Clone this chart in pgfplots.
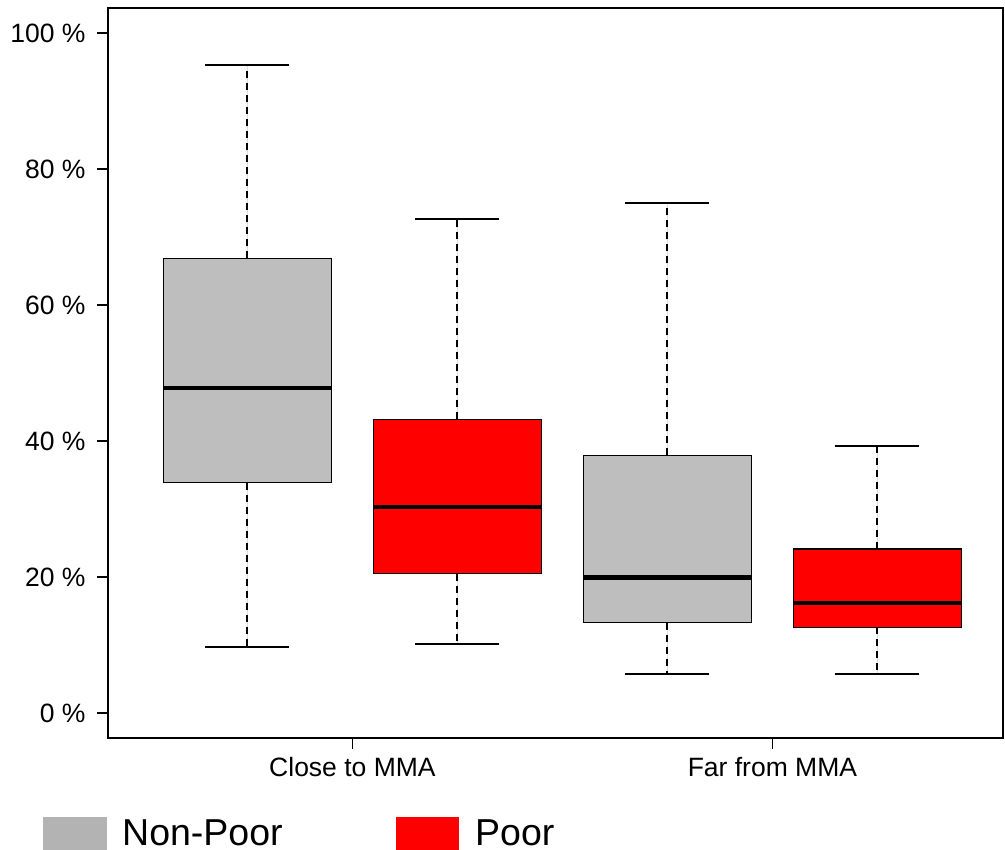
\documentclass[border=0pt]{standalone}
\usepackage{pgfplots}
\pgfplotsset{compat=1.18}
\usepgfplotslibrary{statistics}
\usepackage{fontspec}
\setmainfont{Liberation Sans}
\definecolor{npgrey}{HTML}{BEBEBE}
\definecolor{leggrey}{HTML}{B3B3B3}
\definecolor{pred}{HTML}{FF0000}
\begin{document}
\begin{tikzpicture}
\useasboundingbox (0,0) rectangle (1005bp,-850bp);
\begin{axis}[
  at={(108bp,-738bp)}, anchor=south west,
  scale only axis, width=895bp, height=730bp,
  xmin=0.336, xmax=4.598, ymin=-3.68, ymax=103.7,
  xtick={1.5,3.5}, xticklabels={Close to MMA, Far from MMA},
  ytick={0,20,40,60,80,100},
  yticklabels={0 \%,20 \%,40 \%,60 \%,80 \%,100 \%},
  tick align=outside, tick pos=left, major tick length=11bp,
  axis line style={line width=1.4bp, black},
  every tick/.style={black, line width=1.4bp},
  ticklabel style={font=\fontsize{26.5bp}{30bp}\selectfont},
  yticklabel style={xshift=-8bp},
  xticklabel style={yshift=-5bp},
  boxplot/draw direction=y,
  boxplot/every median/.style={line width=4.5bp, black},
  boxplot/draw/whisker/.code 2 args={
    \draw[black, line width=2bp, dash pattern=on 7bp off 5bp] (boxplot cs:#1) -- (boxplot cs:#2);
    \draw[black, line width=2bp, solid] (boxplot whisker cs:#2,0) -- (boxplot whisker cs:#2,1);
  },
]
\addplot[draw=black, fill=npgrey, line width=1.6bp, solid,
  boxplot prepared={draw position=1, lower whisker=9.66, lower quartile=33.9, median=47.8,
    upper quartile=66.87, upper whisker=95.3, box extend=0.8, whisker extend=0.4}] coordinates {};
\addplot[draw=black, fill=pred, line width=1.6bp, solid,
  boxplot prepared={draw position=2, lower whisker=10.1, lower quartile=20.5, median=30.3,
    upper quartile=43.2, upper whisker=72.6, box extend=0.8, whisker extend=0.4}] coordinates {};
\addplot[draw=black, fill=npgrey, line width=1.6bp, solid,
  boxplot prepared={draw position=3, lower whisker=5.8, lower quartile=13.3, median=19.9,
    upper quartile=37.9, upper whisker=75.0, box extend=0.8, whisker extend=0.4}] coordinates {};
\addplot[draw=black, fill=pred, line width=1.6bp, solid,
  boxplot prepared={draw position=4, lower whisker=5.7, lower quartile=12.6, median=16.2,
    upper quartile=24.1, upper whisker=39.3, box extend=0.8, whisker extend=0.4}] coordinates {};
\end{axis}
\fill[leggrey] (43bp,-817bp) rectangle (107bp,-852bp);
\fill[pred] (396bp,-817bp) rectangle (459bp,-852bp);
\node[anchor=base west, inner sep=0pt, font=\fontsize{37.5bp}{40bp}\selectfont] at (122bp,-845bp) {Non-Poor};
\node[anchor=base west, inner sep=0pt, font=\fontsize{37.5bp}{40bp}\selectfont] at (475bp,-845bp) {Poor};
\end{tikzpicture}
\end{document}
